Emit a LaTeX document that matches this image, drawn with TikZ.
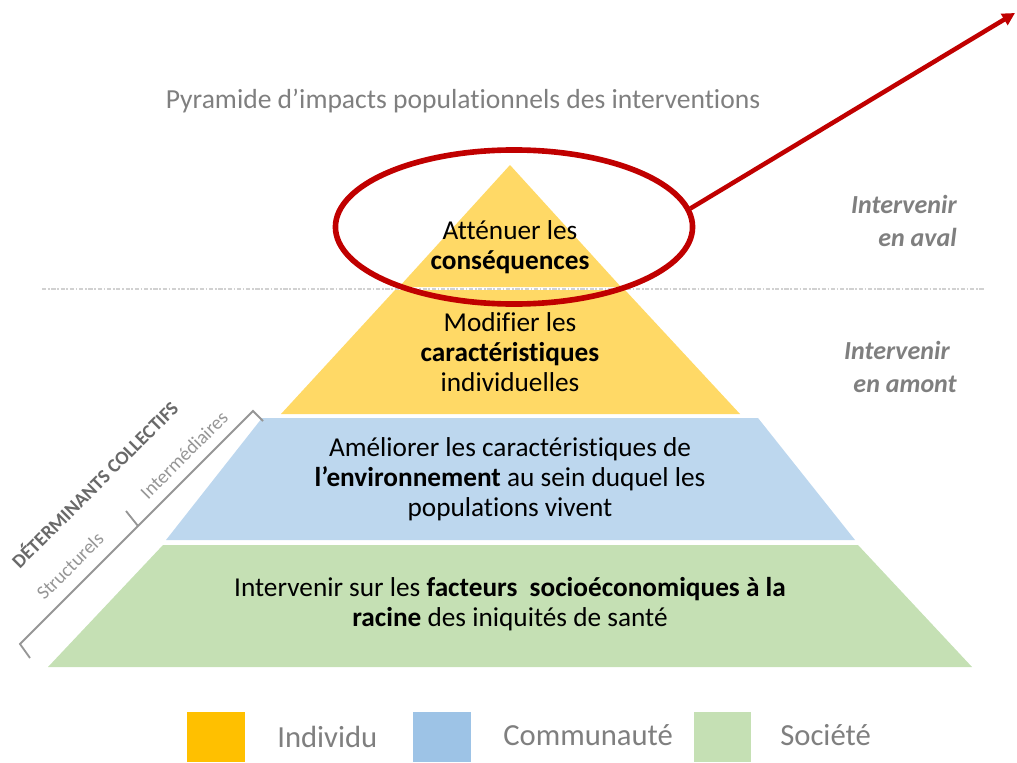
\documentclass[tikz,border=0pt]{standalone}
\usepackage{fontspec}
\setmainfont[Ligatures=NoCommon]{Carlito}
\usetikzlibrary{arrows.meta,shapes.geometric}
\definecolor{pyryellow}{RGB}{255,217,102}
\definecolor{pyrblue}{RGB}{189,215,238}
\definecolor{pyrgreen}{RGB}{197,224,180}
\definecolor{legyellow}{RGB}{255,192,0}
\definecolor{legblue}{RGB}{157,195,230}
\definecolor{txtgray}{RGB}{127,127,127}
\definecolor{brkgray}{RGB}{150,150,150}
\definecolor{detgray}{RGB}{105,105,105}
\definecolor{dfred}{RGB}{192,0,0}
\tikzset{
  layertext/.style={font=\fontsize{19.4}{21.3}\selectfont, align=center, inner sep=0pt},
  sidetext/.style={font=\fontsize{18.5}{24}\selectfont\bfseries\itshape, txtgray, align=right, anchor=east, inner sep=0pt},
  legsquare/.style={minimum width=1.425cm, minimum height=1.25cm, inner sep=0pt},
  legtext/.style={font=\fontsize{21.8}{24}\selectfont, txtgray, anchor=base west, inner sep=0pt},
  brktext/.style={font=\fontsize{13.8}{15}\selectfont, brkgray, rotate=45, inner sep=0pt}
}
\begin{document}
\begin{tikzpicture}[x=0.025cm, y=-0.025cm]
\useasboundingbox (0,0) rectangle (1017,762);
% -- Title --
\node[font=\fontsize{19.6}{22}\selectfont, txtgray, inner sep=0pt] (titre) at (463,101)
  {Pyramide d’impacts populationnels des interventions};
% -- Pyramid layers --
\fill[pyryellow] (510,165) -- (621,287) -- (399,287) -- cycle;
\fill[pyryellow] (395,290) -- (625,290) -- (740,414) -- (281,414) -- cycle;
\fill[pyrblue] (262,418) -- (758,418) -- (855,540) -- (166,540) -- cycle;
\fill[pyrgreen] (163,545) -- (858,545) -- (972,667) -- (48,667) -- cycle;
% aval / amont split
\draw[black!18, line width=1.1pt, dash pattern=on 3pt off 1.2pt on 1.2pt off 1.2pt]
  (42,289) -- (985,289);
% Layer texts
\node[layertext] (conseq) at (510,247) {Atténuer les\\\textbf{conséquences}};
\node[layertext] (indiv) at (510,352) {Modifier les\\\textbf{caractéristiques}\\individuelles};
\node[layertext] (envir) at (510,479)
  {Améliorer les caractéristiques de\\\textbf{l’environnement} au sein duquel les\\populations vivent};
\node[layertext] (racine) at (510,604)
  {Intervenir sur les \textbf{facteurs\ \ socioéconomiques à la}\\\textbf{racine} des iniquités de santé};
% -- Right: where to act --
\node[sidetext] (aval) at (957,221) {Intervenir\\en aval};
\node[sidetext] (amont) at (957,367) {Intervenir\hspace*{5pt}\\en amont};
% -- Left: collective determinants --
\draw[brkgray, line width=1.3pt] (30,658) -- (20,644) -- (138,526) -- (253,411) -- (263,421);
\draw[brkgray, line width=1.3pt] (138,526) -- (126,511);
\node[brktext] (struct) at (70,566) {Structurels};
\node[brktext] (interm) at (184,455) {Intermédiaires};
\node[brktext, font=\fontsize{13.8}{15}\selectfont\bfseries, detgray] (determ) at (94,484)
  {DÉTERMINANTS COLLECTIFS};
% -- Highlight on the top --
\node[draw=dfred, line width=4pt, ellipse, minimum width=8.925cm, minimum height=3.85cm,
  inner sep=0pt] (focus) at (514,227) {};
\coordinate (tip) at (1015,13);
\draw[dfred, line width=3.2pt, -{Triangle[length=9pt,width=9pt]}] (focus.6) -- (tip);
% -- Legend --
\node[legsquare, fill=legyellow] (sqind) at (216,737) {};
\node[legsquare, fill=legblue] (sqcom) at (442,737) {};
\node[legsquare, fill=pyrgreen] (sqsoc) at (722,737) {};
\node[legtext] (lind) at (277,747) {Individu};
\node[legtext] (lcom) at (503,745) {Communauté};
\node[legtext] (lsoc) at (780,745) {Société};
\end{tikzpicture}
\end{document}
